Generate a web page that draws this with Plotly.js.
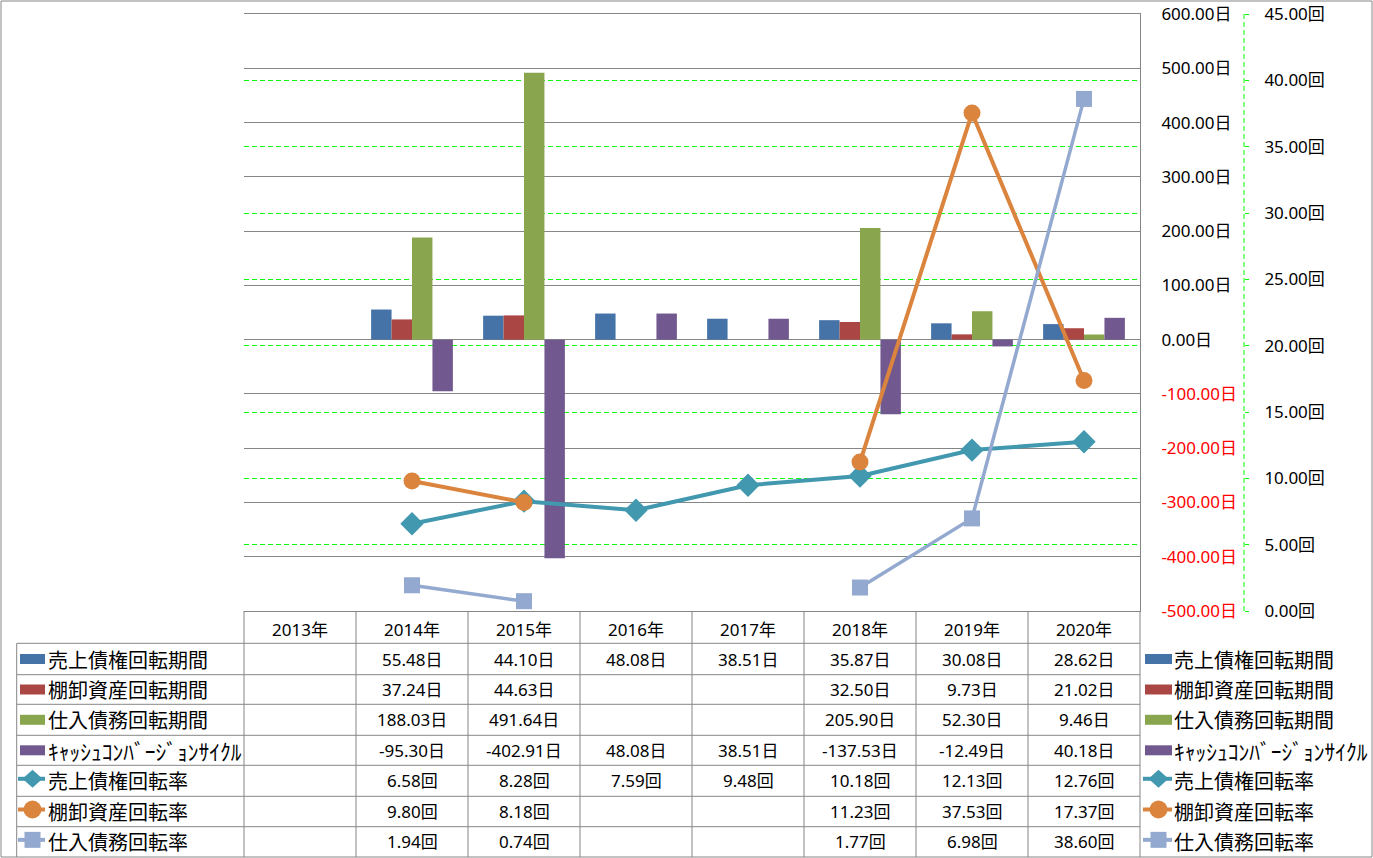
<!DOCTYPE html>
<html><head><meta charset="utf-8">
<script src="https://cdn.plot.ly/plotly-3.0.1.min.js"></script>
<style>html,body{margin:0;padding:0;background:#fff}</style>
</head><body><div id="chart" style="width:1373px;height:858px"></div>
<script>
// ---- data ----
const years = ['2013年','2014年','2015年','2016年','2017年','2018年','2019年','2020年'];
const arPeriod  = [null, 55.48, 44.10, 48.08, 38.51, 35.87, 30.08, 28.62];
const invPeriod = [null, 37.24, 44.63, null, null, 32.50, 9.73, 21.02];
const apPeriod  = [null, 188.03, 491.64, null, null, 205.90, 52.30, 9.46];
const cccPeriod = [null, -95.30, -402.91, 48.08, 38.51, -137.53, -12.49, 40.18];
const arTurn  = [null, 6.58, 8.28, 7.59, 9.48, 10.18, 12.13, 12.76];
const invTurn = [null, 9.80, 8.18, null, null, 11.23, 37.53, 17.37];
const apTurn  = [null, 1.94, 0.74, null, null, 1.77, 6.98, 38.60];
const seriesNames = ['売上債権回転期間','棚卸資産回転期間','仕入債務回転期間','ｷｬｯｼｭｺﾝﾊﾞｰｼﾞｮﾝｻｲｸﾙ','売上債権回転率','棚卸資産回転率','仕入債務回転率'];
const dayTickVals = [-500,-400,-300,-200,-100,0,100,200,300,400,500,600];
const turnTickVals = [0,5,10,15,20,25,30,35,40,45];
const dayUnit = '日', turnUnit = '回';

// ---- geometry helpers ----
const W = 1373, H = 858;
const X = px => px / W;
const Y = py => 1 - py / H;
const GRAY = '#868686';
const FONT = 'Noto Sans, Noto Sans CJK JP, sans-serif';

const barColors = ['#4572A7','#AA4643','#89A54E','#71588F'];
const lineColors = ['#4198AF','#DB843D','#93A9CF'];
const barData = [arPeriod, invPeriod, apPeriod, cccPeriod];
const lineData = [arTurn, invTurn, apTurn];
const symbols = ['diamond','circle','square'];
const symSizes = [18,17,16];

const traces = [];
barData.forEach((d,i)=>traces.push({
  type:'bar', x:years, y:d, name:seriesNames[i], marker:{color:barColors[i]},
  xaxis:'x', yaxis:'y', hoverinfo:'skip'
}));
lineData.forEach((d,i)=>traces.push({
  type:'scatter', mode:'lines+markers', x:years, y:d, name:seriesNames[4+i],
  line:{color:lineColors[i], width: i===2?3.5:4},
  marker:{symbol:symbols[i], size:symSizes[i], color:lineColors[i]},
  xaxis:'x', yaxis:'y2', hoverinfo:'skip'
}));

const dayText = dayTickVals.map(v => {
  const t = v.toFixed(2) + dayUnit;
  return v < 0 ? '<span style="color:#FF0000">' + t + '</span>' : t;
});
const turnText = turnTickVals.map(v => v.toFixed(2) + turnUnit);

// ---- table geometry ----
const plotL = 244, plotR = 1140, plotT = 14, plotB = 611;
const tableLeft = 16.7;
const rowLines = [643.3, 674.7, 704.3, 735.3, 765.3, 796.3, 826.7, 857];
const rowCenters = rowLines.slice(0,-1).map((v,i)=>(v+rowLines[i+1])/2);

const shapes = [];
const annotations = [];
const line = (x0,y0,x1,y1,color,width,dash) => shapes.push({type:'line', xref:'paper', yref:'paper',
  x0:X(x0), y0:Y(y0), x1:X(x1), y1:Y(y1), line:{color:color, width:width, dash:dash||'solid'}});

// outer border
shapes.push({type:'rect', xref:'paper', yref:'paper', x0:X(1), y0:Y(1), x1:X(1372), y1:Y(857), line:{color:GRAY,width:1}});
// table horizontal lines
rowLines.slice(0,-1).forEach(y => line(tableLeft, y, plotR, y, GRAY, 1));
// table vertical lines
line(tableLeft, rowLines[0], tableLeft, 857, GRAY, 1);
for (let i=0;i<=years.length;i++){
  const px = plotL + i*(plotR-plotL)/years.length;
  line(px, plotB, px, 857, GRAY, 1);
}
// secondary axis line (dashed green)
line(1244, plotT, 1244, plotB, '#00FF00', 1, '5px,3px');

// table values
const allData = [arPeriod, invPeriod, apPeriod, cccPeriod, arTurn, invTurn, apTurn];
allData.forEach((d,r)=>{
  const unit = r < 4 ? dayUnit : turnUnit;
  d.forEach((v,i)=>{
    if (v === null) return;
    annotations.push({xref:'x', yref:'paper', x:years[i], y:Y(rowCenters[r]), text:v.toFixed(2)+unit,
      showarrow:false, xanchor:'center', yanchor:'middle', font:{size:17, color:'#000', family:FONT}});
  });
});

// legend keys (left and right columns)
function legendKeys(keyL, keyR, textX){
  seriesNames.forEach((nm,r)=>{
    const cy = rowCenters[r];
    if (r < 4){
      shapes.push({type:'rect', xref:'paper', yref:'paper', x0:X(keyL+2), x1:X(keyR), y0:Y(cy-5), y1:Y(cy+5),
        fillcolor:barColors[r], line:{width:0}});
    } else {
      const k = r-4, c = lineColors[k], cx = (keyL+keyR)/2 + 1, my = cy - 2;
      line(keyL, my, keyR, my, c, 4);
      if (k===0){
        shapes.push({type:'path', xref:'paper', yref:'paper',
          path:`M ${X(cx-10)} ${Y(my)} L ${X(cx)} ${Y(my-9)} L ${X(cx+10)} ${Y(my)} L ${X(cx)} ${Y(my+9)} Z`,
          fillcolor:c, line:{width:0}});
      } else if (k===1){
        shapes.push({type:'circle', xref:'paper', yref:'paper', x0:X(cx-9), x1:X(cx+9), y0:Y(my-9), y1:Y(my+9),
          fillcolor:c, line:{width:0}});
      } else {
        shapes.push({type:'rect', xref:'paper', yref:'paper', x0:X(cx-8), x1:X(cx+8), y0:Y(my-8), y1:Y(my+8),
          fillcolor:c, line:{width:0}});
      }
    }
    const small = r === 3;
    annotations.push({xref:'paper', yref:'paper', x:X(textX), y:Y(cy), text:nm, showarrow:false,
      xanchor:'left', yanchor:'middle', font:{size: small?21.5:20, color:'#000', family:'Noto Sans CJK JP, sans-serif'}});
  });
}
legendKeys(18, 45, 46);
legendKeys(1143, 1172, 1172);

const layout = {
  width: W, height: H,
  margin: {l:0, r:0, t:0, b:0},
  paper_bgcolor:'#fff', plot_bgcolor:'rgba(0,0,0,0)',
  font:{family:FONT, size:17, color:'#000'},
  showlegend:false,
  barmode:'group', bargap:0.27, bargroupgap:0,
  xaxis:{domain:[X(plotL), X(plotR)], type:'category', categoryorder:'array', categoryarray:years,
    range:[-0.5, years.length-0.5], showline:true, linecolor:GRAY, linewidth:1, mirror:true,
    showgrid:false, zeroline:false, ticks:'', ticklabelstandoff:4, tickfont:{size:17}, fixedrange:true},
  yaxis:{domain:[Y(plotB), Y(plotT)], side:'right', anchor:'x', range:[-500,600],
    tickmode:'array', tickvals:dayTickVals, ticktext:dayText,
    showgrid:true, gridcolor:GRAY, gridwidth:1, zeroline:false,
    showline:true, linecolor:GRAY, linewidth:1, ticks:'', ticklabelstandoff:17, tickfont:{size:17}, fixedrange:true},
  yaxis2:{overlaying:'y', side:'right', anchor:'free', position:X(1244), range:[0,45],
    tickmode:'array', tickvals:turnTickVals, ticktext:turnText,
    showgrid:true, gridcolor:'#00FF00', gridwidth:1, griddash:'5px,3px', zeroline:false,
    showline:false, ticks:'outside', ticklen:4, tickcolor:'#00FF00', tickwidth:1,
    ticklabelstandoff:12, tickfont:{size:17}, fixedrange:true},
  shapes: shapes,
  annotations: annotations
};

Plotly.newPlot('chart', traces, layout, {displayModeBar:false, staticPlot:true});
</script>
</body></html>
